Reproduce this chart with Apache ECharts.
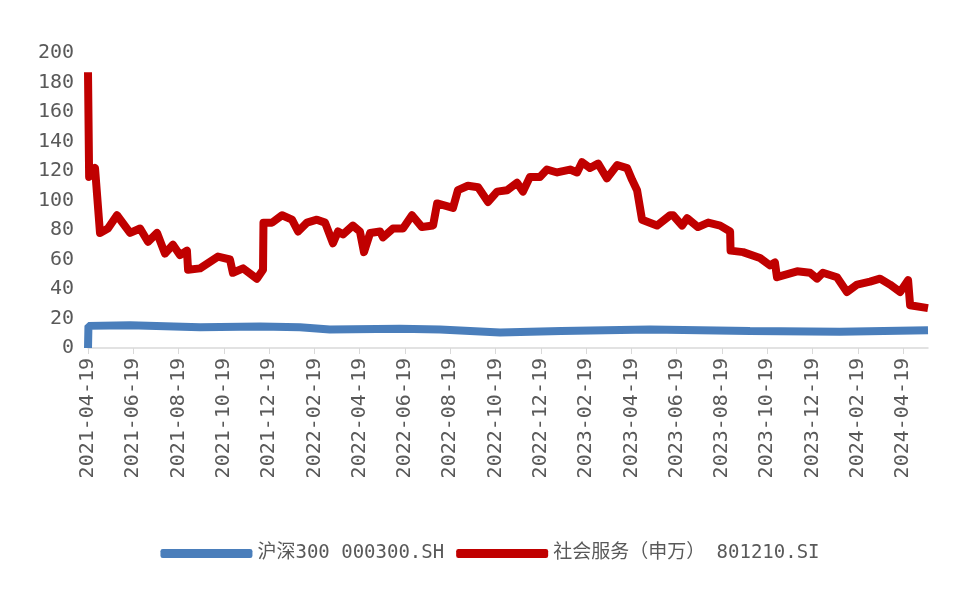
<!DOCTYPE html>
<html><head><meta charset="utf-8">
<script src="https://cdn.jsdelivr.net/npm/echarts@6/dist/echarts.min.js"></script>
<style>html,body{margin:0;padding:0;background:#fff}#c{width:980px;height:606px}</style>
</head><body><div id="c"></div>
<script>
// x positions are months since 2021-04-19
const tickLabels = ['2021-04-19','2021-06-19','2021-08-19','2021-10-19','2021-12-19','2022-02-19','2022-04-19','2022-06-19','2022-08-19','2022-10-19','2022-12-19','2023-02-19','2023-04-19','2023-06-19','2023-08-19','2023-10-19','2023-12-19','2024-02-19','2024-04-19'];
const redMonths = [0,0.05,0.31,0.53,0.88,1.28,1.86,2.30,2.65,3.05,3.40,3.75,4.06,4.37,4.42,4.95,5.74,6.27,6.40,6.85,7.46,7.73,7.75,8.13,8.57,9.01,9.28,9.67,10.11,10.47,10.82,11.04,11.26,11.70,12.01,12.19,12.46,12.90,13.03,13.47,13.91,14.31,14.75,15.24,15.42,16.12,16.34,16.78,17.23,17.67,18.07,18.51,18.95,19.21,19.52,19.96,20.27,20.72,21.29,21.60,21.82,22.17,22.53,22.92,23.37,23.81,24.03,24.25,24.47,25.13,25.71,25.84,26.24,26.46,26.94,27.39,27.92,28.36,28.38,28.93,29.68,30.12,30.34,30.43,31.32,31.89,32.20,32.46,33.08,33.52,33.97,34.54,34.98,35.42,35.87,36.22,36.31,37.10];
const redValues = [187,116,122,78,81,90,78,81,72,78,64,70,63,66,53,54,62,60,51,54,47,53,85,85,90,87,79,85,87,85,71,79,77,83,79,65,78,79,75,81,81,90,82,83,98,95,107,110,109,99,106,107,112,106,116,116,121,119,121,119,126,122,125,115,124,122,114,107,87,83,90,90,83,88,82,85,83,79,66,65,61,56,58,48,52,51,47,51,48,38,43,45,47,43,38,46,29,27];
const blueMonths = [0,0.02,1.86,4.95,7.6,9.36,10.68,13.78,15.55,18.2,20.9,24.82,29.24,33.2,37.1];
const blueValues = [0,15,15.5,14,14.5,14,12.5,13,12.5,10.5,11.5,12.5,11.5,11,12];
const names = ['沪深300 000300.SH','社会服务（申万） 801210.SI'];
const zip=(a,b)=>a.map((x,i)=>[x,b[i]]);
const FONT = "'DejaVu Sans Mono','Noto Sans CJK SC',monospace";
const chart = echarts.init(document.getElementById('c'));
chart.setOption({
  animation:false,
  grid:{left:88,right:52,top:53,bottom:258},
  legend:{bottom:38,left:'center',itemWidth:92,itemHeight:9,itemGap:12,icon:'roundRect',
    textStyle:{fontFamily:FONT,fontSize:19,color:'#595959'},data:names},
  xAxis:{type:'value',min:0,max:37.1,interval:2,
    axisLine:{lineStyle:{color:'#d9d9d9',width:1.5}},
    axisTick:{show:true,length:6,lineStyle:{color:'#d9d9d9'}},
    splitLine:{show:false},
    axisLabel:{rotate:90,fontFamily:FONT,fontSize:20,color:'#595959',showMaxLabel:false,margin:10,
      formatter:v=>tickLabels[Math.round(v/2)]||''}},
  yAxis:{type:'value',min:0,max:200,interval:20,
    axisLine:{show:false},axisTick:{show:false},splitLine:{show:false},
    axisLabel:{fontFamily:FONT,fontSize:20,color:'#595959',margin:14}},
  series:[
    {name:names[0],type:'line',data:zip(blueMonths,blueValues),showSymbol:false,lineStyle:{color:'#4a7ebb',width:8},itemStyle:{color:'#4a7ebb'}},
    {name:names[1],type:'line',data:zip(redMonths,redValues),showSymbol:false,lineStyle:{color:'#c00000',width:8,join:'round'},itemStyle:{color:'#c00000'}}
  ]
});
</script></body></html>
